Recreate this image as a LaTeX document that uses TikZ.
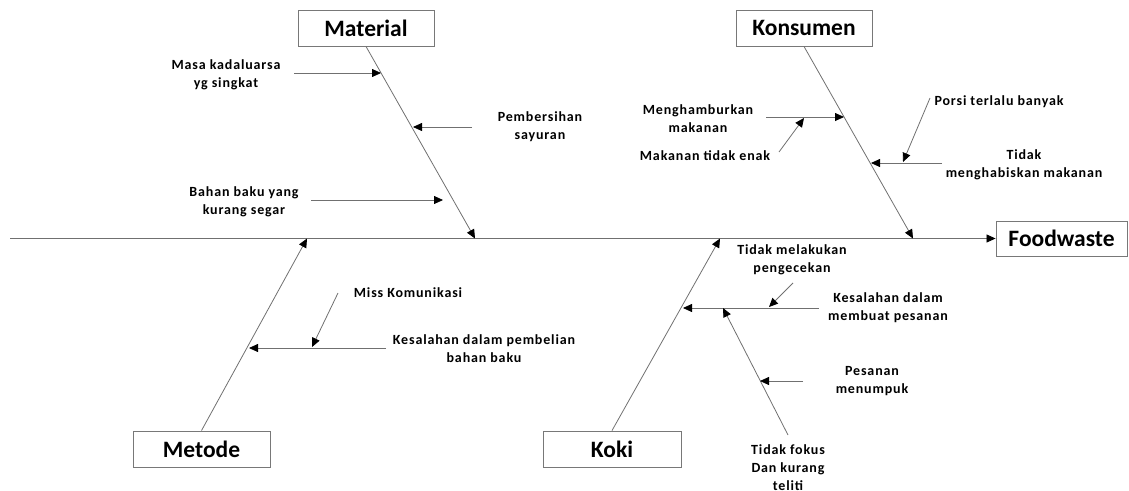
\documentclass[tikz,border=0pt]{standalone}
\usepackage{fontspec}
\setmainfont{Carlito}
\usetikzlibrary{arrows.meta}
\definecolor{linegray}{RGB}{112,112,112}
\definecolor{boxgray}{RGB}{120,120,120}
\begin{document}
\begin{tikzpicture}[x=1pt,y=-1pt,
  line/.style={draw=linegray, line width=0.8pt},
  tip/.style={-{Triangle[length=9pt,width=8pt,color=black]}},
  catbox/.style={draw=boxgray, line width=0.9pt, minimum width=136pt,
    minimum height=36pt, inner sep=0pt,
    font=\bfseries\fontsize{23.5}{26}\selectfont},
  cause/.style={align=center, inner sep=1pt,
    font=\bfseries\fontsize{14}{18}\selectfont\addfontfeatures{LetterSpace=6}}]
\useasboundingbox (0,0) rectangle (1129,490);

% category boxes and effect
\node[catbox] (material) at (366,28) {Material};
\node[catbox] (konsumen) at (804,28) {Konsumen};
\node[catbox, minimum width=137pt] (metode) at (201.5,449) {Metode};
\node[catbox, minimum width=138pt] (koki) at (612,449) {Koki};
\node[catbox, minimum width=131pt, minimum height=35pt] (foodwaste) at (1061.5,238.5) {Foodwaste};

% spine
\coordinate (tail) at (10,238.5);
\draw[line,tip] (tail) -- (foodwaste.west);

% main bones
\coordinate (matHead) at (475,238.5);
\coordinate (konHead) at (913,238.5);
\coordinate (metHead) at (307,238.5);
\coordinate (kokHead) at (720,238.5);
\draw[line,tip] (material.south) -- (matHead);
\draw[line,tip] (konsumen.south) -- (konHead);
\draw[line,tip] (metode.north) -- (metHead);
\draw[line,tip] (koki.north) -- (kokHead);

% Material causes
\node[cause] (masa) at (226,75) {Masa kadaluarsa\\yg singkat};
\node[cause] (bersih) at (540,127) {Pembersihan\\sayuran};
\node[cause] (bahan) at (244,202) {Bahan baku yang\\kurang segar};
\coordinate (m1a) at (294,73);  \coordinate (m1b) at (381,73);
\coordinate (m2a) at (472,127); \coordinate (m2b) at (413,127);
\coordinate (m3a) at (311,200); \coordinate (m3b) at (443,200);
\draw[line,tip] (m1a) -- (m1b);
\draw[line,tip] (m2a) -- (m2b);
\draw[line,tip] (m3a) -- (m3b);

% Konsumen causes
\node[cause] (hambur) at (698,119) {Menghamburkan\\makanan};
\node[cause] (enak) at (705,156) {Makanan tidak enak};
\node[cause] (porsi) at (999,102) {Porsi terlalu banyak};
\node[cause] (habis) at (1024,165) {Tidak\\menghabiskan makanan};
\coordinate (k1a) at (766,117); \coordinate (k1b) at (844,117);
\coordinate (k1c) at (779,152); \coordinate (k1d) at (804,118);
\coordinate (k2a) at (942,163); \coordinate (k2b) at (871,163);
\coordinate (k2c) at (930,98);  \coordinate (k2d) at (903,162);
\draw[line,tip] (k1a) -- (k1b);
\draw[line,tip] (k1c) -- (k1d);
\draw[line,tip] (k2a) -- (k2b);
\draw[line,tip] (k2c) -- (k2d);

% Metode causes
\node[cause] (miss) at (408,293) {Miss Komunikasi};
\node[cause] (beli) at (484,349) {Kesalahan dalam pembelian\\bahan baku};
\coordinate (e1a) at (386,348); \coordinate (e1b) at (249,348);
\coordinate (e1c) at (338,293); \coordinate (e1d) at (312,347);
\draw[line,tip] (e1a) -- (e1b);
\draw[line,tip] (e1c) -- (e1d);

% Koki causes
\node[cause] (cek) at (792,260) {Tidak melakukan\\pengecekan};
\node[cause] (buat) at (888,307.5) {Kesalahan dalam\\membuat pesanan};
\node[cause] (numpuk) at (872,381.5) {Pesanan\\menumpuk};
\node[cause] (fokus) at (788,468) {Tidak fokus\\Dan kurang\\teliti};
\coordinate (o1a) at (819,308); \coordinate (o1b) at (683,308);
\coordinate (o1c) at (793,283); \coordinate (o1d) at (769,307);
\coordinate (o2a) at (788,435); \coordinate (o2b) at (723,308);
\coordinate (o2c) at (803,381); \coordinate (o2d) at (760,381);
\draw[line,tip] (o1a) -- (o1b);
\draw[line,tip] (o1c) -- (o1d);
\draw[line,tip] (o2a) -- (o2b);
\draw[line,tip] (o2c) -- (o2d);
\end{tikzpicture}
\end{document}
